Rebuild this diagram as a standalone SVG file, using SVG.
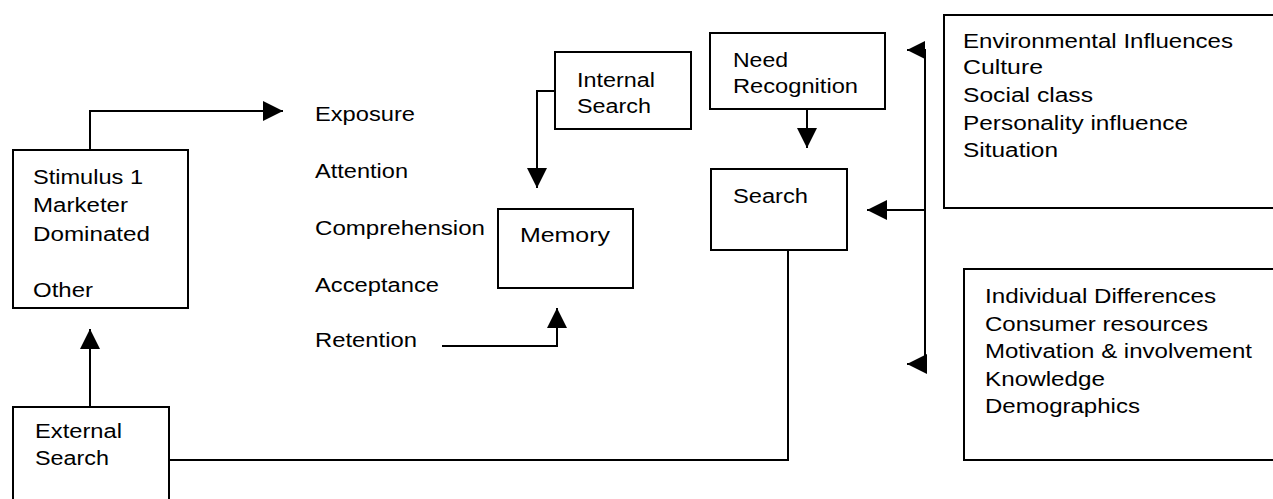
<svg xmlns="http://www.w3.org/2000/svg" width="1273" height="499" viewBox="0 0 1273 499">
  <style>
    .box { fill: #fff; stroke: #000; stroke-width: 2; }
    .wire { fill: none; stroke: #000; stroke-width: 2; }
    text { font-family: "Liberation Sans", Arial, sans-serif; font-size: 20px; fill: #000; }
  </style>
  <defs>
    <marker id="head" viewBox="0 0 20 20" refX="20" refY="10" markerWidth="20" markerHeight="20" markerUnits="userSpaceOnUse" orient="auto">
      <path d="M0,0 L20,10 L0,20 Z" fill="#000"/>
    </marker>
    <marker id="headSmall" viewBox="0 0 18 18" refX="18" refY="9" markerWidth="18" markerHeight="18" markerUnits="userSpaceOnUse" orient="auto">
      <path d="M0,0 L18,9 L0,18 Z" fill="#000"/>
    </marker>
  </defs>
  <rect width="1273" height="499" fill="#fff"/>

  <!-- connectors -->
  <g id="connectors">
    <path class="wire" d="M90,150 L90,111 L283,111" marker-end="url(#head)"/>
    <path class="wire" d="M90,406 L90,329" marker-end="url(#head)"/>
    <path class="wire" d="M555,91 L537,91 L537,188" marker-end="url(#head)"/>
    <path class="wire" d="M442,346 L557,346 L557,308" marker-end="url(#head)"/>
    <path class="wire" d="M807,109 L807,148" marker-end="url(#head)"/>
    <path class="wire" d="M925,210 L867,210" marker-end="url(#head)"/>
    <path class="wire" d="M169,460 L788,460 L788,250"/>
    <path class="wire" d="M925,365 L925,50 L907,50" marker-end="url(#headSmall)"/>
    <path class="wire" d="M925,364 L907,364" marker-end="url(#head)"/>
  </g>

  <g id="stimulus">
    <rect class="box" x="13" y="150" width="175" height="158"/>
    <text x="33" y="184" textLength="110" lengthAdjust="spacingAndGlyphs">Stimulus 1</text>
    <text x="33" y="212" textLength="95" lengthAdjust="spacingAndGlyphs">Marketer</text>
    <text x="33" y="241" textLength="117" lengthAdjust="spacingAndGlyphs">Dominated</text>
    <text x="33" y="297" textLength="60" lengthAdjust="spacingAndGlyphs">Other</text>
  </g>

  <g id="external-search">
    <rect class="box" x="13" y="407" width="156" height="110"/>
    <text x="35" y="438" textLength="87" lengthAdjust="spacingAndGlyphs">External</text>
    <text x="35" y="465" textLength="74" lengthAdjust="spacingAndGlyphs">Search</text>
  </g>

  <g id="stages">
    <text x="315" y="121" textLength="100" lengthAdjust="spacingAndGlyphs">Exposure</text>
    <text x="315" y="178" textLength="93" lengthAdjust="spacingAndGlyphs">Attention</text>
    <text x="315" y="235" textLength="170" lengthAdjust="spacingAndGlyphs">Comprehension</text>
    <text x="315" y="292" textLength="124" lengthAdjust="spacingAndGlyphs">Acceptance</text>
    <text x="315" y="347" textLength="102" lengthAdjust="spacingAndGlyphs">Retention</text>
  </g>

  <g id="memory">
    <rect class="box" x="498" y="209" width="135" height="79"/>
    <text x="520" y="242" textLength="90" lengthAdjust="spacingAndGlyphs">Memory</text>
  </g>

  <g id="internal-search">
    <rect class="box" x="555" y="52" width="136" height="77"/>
    <text x="577" y="87" textLength="78" lengthAdjust="spacingAndGlyphs">Internal</text>
    <text x="577" y="113" textLength="74" lengthAdjust="spacingAndGlyphs">Search</text>
  </g>

  <g id="need-recognition">
    <rect class="box" x="710" y="33" width="175" height="76"/>
    <text x="733" y="67" textLength="55" lengthAdjust="spacingAndGlyphs">Need</text>
    <text x="733" y="93" textLength="125" lengthAdjust="spacingAndGlyphs">Recognition</text>
  </g>

  <g id="search">
    <rect class="box" x="711" y="169" width="136" height="81"/>
    <text x="733" y="203" textLength="75" lengthAdjust="spacingAndGlyphs">Search</text>
  </g>

  <g id="environmental-influences">
    <rect class="box" x="944" y="15" width="340" height="193"/>
    <text x="963" y="48" textLength="270" lengthAdjust="spacingAndGlyphs">Environmental Influences</text>
    <text x="963" y="74" textLength="80" lengthAdjust="spacingAndGlyphs">Culture</text>
    <text x="963" y="102" textLength="130" lengthAdjust="spacingAndGlyphs">Social class</text>
    <text x="963" y="130" textLength="225" lengthAdjust="spacingAndGlyphs">Personality influence</text>
    <text x="963" y="157" textLength="95" lengthAdjust="spacingAndGlyphs">Situation</text>
  </g>

  <g id="individual-differences">
    <rect class="box" x="964" y="269" width="320" height="191"/>
    <text x="985" y="303" textLength="231" lengthAdjust="spacingAndGlyphs">Individual Differences</text>
    <text x="985" y="331" textLength="223" lengthAdjust="spacingAndGlyphs">Consumer resources</text>
    <text x="985" y="358" textLength="267" lengthAdjust="spacingAndGlyphs">Motivation &amp; involvement</text>
    <text x="985" y="386" textLength="120" lengthAdjust="spacingAndGlyphs">Knowledge</text>
    <text x="985" y="413" textLength="155" lengthAdjust="spacingAndGlyphs">Demographics</text>
  </g>
</svg>
